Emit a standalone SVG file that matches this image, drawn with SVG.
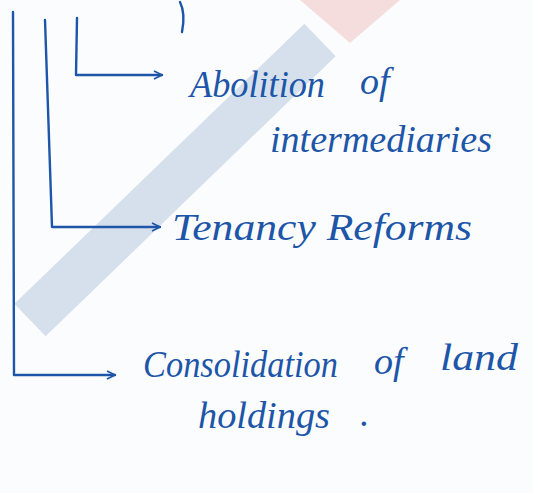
<svg xmlns="http://www.w3.org/2000/svg" width="533" height="493" viewBox="0 0 533 493">
<style>
.ink{fill:none;stroke:#1d56a8;stroke-width:2.4;stroke-linecap:round;stroke-linejoin:round}
.t{font-family:"Liberation Serif","DejaVu Serif",serif;font-style:italic;fill:#1d56a8;font-size:38px}
</style>
<defs>
<marker id="ah" viewBox="0 0 10 10" refX="9" refY="5" markerWidth="10" markerHeight="10" markerUnits="userSpaceOnUse" orient="auto">
<path d="M1,1 L9,5 L1,9" fill="none" stroke="#1d56a8" stroke-width="1.6"/>
</marker>
</defs>
<rect width="533" height="493" fill="#fbfcfd"/>
<g id="watermark" opacity="0.45">
<polygon points="300,0 400,0 350,43" fill="#f2b8b8"/>
<path d="M30,320 L320,40" stroke="#a9bfd8" stroke-width="45" fill="none"/>
</g>
<g id="connectors">
<path class="ink" d="M180,2 C184,10 184,22 182,32"/>
<path class="ink" d="M13,12 L14,375 L115,375" marker-end="url(#ah)"/>
<path class="ink" d="M45,20 L52,227 L160,227" marker-end="url(#ah)"/>
<path class="ink" d="M77,18 L76,75 L162,75" marker-end="url(#ah)"/>
</g>
<g id="n1">
<text class="t" x="190" y="97" textLength="135" lengthAdjust="spacingAndGlyphs">Abolition</text>
<text class="t" x="360" y="94" font-size="48">of</text>
<text class="t" x="270" y="152" textLength="222" lengthAdjust="spacingAndGlyphs">intermediaries</text>
</g>
<g id="n2">
<text class="t" x="172" y="240" textLength="300" lengthAdjust="spacingAndGlyphs">Tenancy  Reforms</text>
</g>
<g id="n3">
<text class="t" x="143" y="377" textLength="195" lengthAdjust="spacingAndGlyphs">Consolidation</text>
<text class="t" x="374" y="374" font-size="46">of</text>
<text class="t" x="440" y="370" textLength="78" lengthAdjust="spacingAndGlyphs">land</text>
<text class="t" x="198" y="428" textLength="132" lengthAdjust="spacingAndGlyphs">holdings</text>
<text class="t" x="360" y="426">.</text>
</g>
</svg>
